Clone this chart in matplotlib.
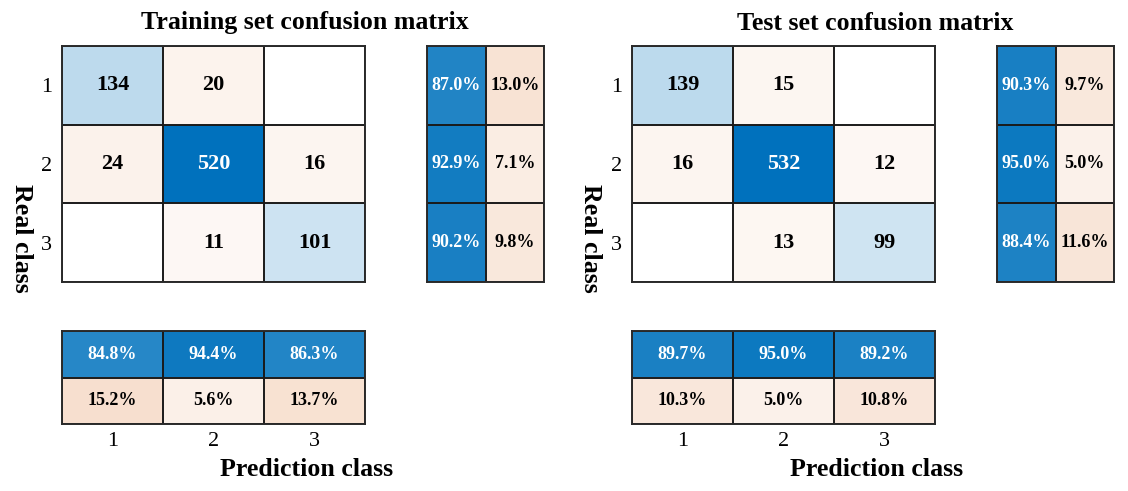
import numpy as np
import matplotlib
matplotlib.use('Agg')
import matplotlib.pyplot as plt

plt.rcParams['font.family'] = ['Liberation Serif', 'DejaVu Serif']

classes = ['1', '2', '3']
train_cm = np.array([[134, 20, 0],
                     [24, 520, 16],
                     [0, 11, 101]])
test_cm = np.array([[139, 15, 0],
                    [16, 532, 12],
                    [0, 13, 99]])
titles = ['Training set confusion matrix', 'Test set confusion matrix']

DIAG = np.array([0, 114, 189]) / 255.0
OFF = np.array([217, 95, 10]) / 255.0
W, H = 1128, 491


def mix(base, a):
    '''blend white with base colour by a (0..1)'''
    if base is OFF:
        a = 0.8 * a ** 0.75
    return 1 - a * (1 - base)


def text_color(base, a):
    c = mix(base, a)
    lum = 0.299 * c[0] + 0.587 * c[1] + 0.114 * c[2]
    return 'white' if lum < 0.55 else 'black'


def box(x0, y0, x1, y1):
    # pixel box (top-left origin) -> figure fraction rect
    return [x0 / W, 1 - y1 / H, (x1 - x0) / W, (y1 - y0) / H]


def grid_axes(ax, nr, nc):
    ax.set_xlim(-0.5, nc - 0.5)
    ax.set_ylim(nr - 0.5, -0.5)
    ax.set_xticks(np.arange(-0.5, nc, 1), minor=True)
    ax.set_yticks(np.arange(-0.5, nr, 1), minor=True)
    ax.grid(which='minor', color='#1a1a1a', lw=1.4)
    ax.tick_params(which='both', length=0)
    ax.set_xticks([])
    ax.set_yticks([])
    for s in ax.spines.values():
        s.set_color('#2a2a2a')
        s.set_linewidth(1.4)


def draw_panel(fig, cm, title, dx):
    n = cm.shape[0]
    vmax = cm.max()

    # main matrix
    ax = fig.add_axes(box(62 + dx, 46, 365 + dx, 282))
    rgb = np.ones((n, n, 3))
    for i in range(n):
        for j in range(n):
            base = DIAG if i == j else OFF
            a = cm[i, j] / vmax
            rgb[i, j] = mix(base, a)
            if cm[i, j] > 0:
                ax.text(j, i, str(cm[i, j]), ha='center', va='center',
                        fontsize=16, fontweight='bold',
                        color=text_color(base, a))
    ax.imshow(rgb, aspect='auto', interpolation='nearest')
    grid_axes(ax, n, n)
    ax.set_yticks(range(n))
    ax.set_yticklabels(classes, fontsize=16)
    ax.tick_params(axis='y', pad=7)

    # row summary
    row_ok = np.diag(cm) / cm.sum(axis=1)
    row_tab = np.column_stack([row_ok, 1 - row_ok])
    axr = fig.add_axes(box(427 + dx, 46, 544 + dx, 282))
    rgb = np.ones((n, 2, 3))
    for i in range(n):
        for j in range(2):
            base = DIAG if j == 0 else OFF
            a = row_tab[i, j]
            rgb[i, j] = mix(base, a)
            axr.text(j, i, '%.1f%%' % (100 * a), ha='center', va='center',
                     fontsize=13, fontweight='bold',
                     color=text_color(base, a))
    axr.imshow(rgb, aspect='auto', interpolation='nearest')
    grid_axes(axr, n, 2)

    # column summary
    col_ok = np.diag(cm) / cm.sum(axis=0)
    col_tab = np.vstack([col_ok, 1 - col_ok])
    axc = fig.add_axes(box(62 + dx, 331, 365 + dx, 424))
    rgb = np.ones((2, n, 3))
    for i in range(2):
        for j in range(n):
            base = DIAG if i == 0 else OFF
            a = col_tab[i, j]
            rgb[i, j] = mix(base, a)
            axc.text(j, i, '%.1f%%' % (100 * a), ha='center', va='center',
                     fontsize=13, fontweight='bold',
                     color=text_color(base, a))
    axc.imshow(rgb, aspect='auto', interpolation='nearest')
    grid_axes(axc, 2, n)
    axc.set_xticks(range(n))
    axc.set_xticklabels(classes, fontsize=16)
    axc.tick_params(axis='x', pad=6)

    fig.text((305 + dx) / W, 1 - 23 / H, title, ha='center', va='center',
             fontsize=18.6, fontweight='bold')
    fig.text((307 + dx) / W, 1 - 469 / H, 'Prediction class', ha='center',
             va='center', fontsize=18.6, fontweight='bold')
    fig.text((21 + dx) / W, 1 - 238 / H, 'Real class', ha='center',
             va='center', rotation=-90, fontsize=18.6, fontweight='bold')


fig = plt.figure(figsize=(W / 100, H / 100), dpi=100)
draw_panel(fig, train_cm, titles[0], 0)
draw_panel(fig, test_cm, titles[1], 570)
fig.savefig('out.png', dpi=100)
